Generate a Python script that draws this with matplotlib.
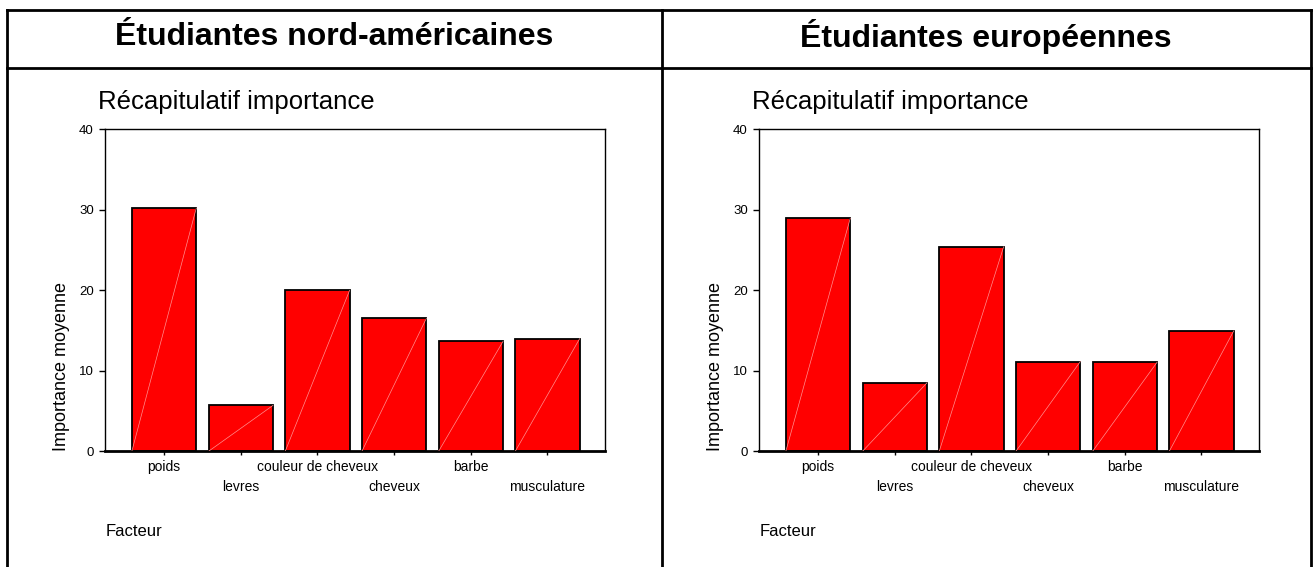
import matplotlib
matplotlib.use("Agg")
import matplotlib.pyplot as plt
from matplotlib.lines import Line2D

plt.rcParams['font.family'] = ['Liberation Sans', 'DejaVu Sans']

facteurs = ["poids", "levres", "couleur de cheveux", "cheveux", "barbe", "musculature"]
nord_americaines = [30.2, 5.7, 20.0, 16.5, 13.65, 14.0]
europeennes = [28.95, 8.5, 25.4, 11.15, 11.05, 14.95]
titres = ["Étudiantes nord-américaines", "Étudiantes européennes"]
yticks = [0, 10, 20, 30, 40]

W, H = 1314, 567
fig = plt.figure(figsize=(W / 100, H / 100), dpi=100)


def px(x, y):
    return x / W, 1 - y / H


# lignes du tableau
def hline(x0, x1, y):
    a, b = px(x0, y)
    c, _ = px(x1, y)
    fig.add_artist(Line2D([a, c], [b, b], color="black", lw=2, transform=fig.transFigure))


def vline(x, y0, y1):
    a, b = px(x, y0)
    _, d = px(x, y1)
    fig.add_artist(Line2D([a, a], [b, d], color="black", lw=2, transform=fig.transFigure))


hline(7, 1311, 10)
hline(7, 1311, 67.5)
vline(7, 10, 567)
vline(661.5, 10, 567)
vline(1311, 10, 567)

panneaux = [(105, nord_americaines, titres[0], 334), (759, europeennes, titres[1], 986)]

for left, valeurs, titre, cx in panneaux:
    x0, y0 = px(left, 451.3)
    ax = fig.add_axes([x0, y0, 500 / W, 322 / H])
    pos = list(range(len(facteurs)))
    largeur = 0.84
    ax.bar(pos, valeurs, width=largeur, color="#ff0000", edgecolor="black", linewidth=1.3, zorder=2)
    for p, v in zip(pos, valeurs):
        ax.plot([p - largeur / 2, p + largeur / 2], [0, v], color="#ff9090", lw=0.5, zorder=3)
    ax.set_xlim(-0.77, 5.75)
    ax.set_ylim(0, 40)
    ax.set_yticks(yticks)
    ax.set_yticklabels([str(t) for t in yticks])
    ax.set_xticks(pos)
    ax.set_xticklabels(facteurs)
    ax.tick_params(direction="out", length=4, width=1, labelsize=10, colors="black")
    ax.tick_params(axis="x", length=3)
    ax.tick_params(axis="y", pad=4, labelsize=9.5)
    for sp in ax.spines.values():
        sp.set_linewidth(1)
    ax.spines["bottom"].set_linewidth(2)
    for i, tick in enumerate(ax.xaxis.get_major_ticks()):
        tick.set_pad(3 if i % 2 == 0 else 18)

    lx, ly = px(left - 43, 451.3)
    fig.text(lx, ly, "Importance moyenne", fontsize=13, rotation=90, ha="center", va="bottom")

    tx, ty = px(cx, 37)
    fig.text(tx, ty, titre, fontsize=23, fontweight="bold", ha="center", va="center")
    rx, ry = px(left - 7, 102)
    fig.text(rx, ry, "Récapitulatif importance", fontsize=18.5, ha="left", va="center")
    fx, fy = px(left + 1, 532)
    fig.text(fx, fy, "Facteur", fontsize=12, ha="left", va="center")

fig.savefig("out.png", dpi=100)
